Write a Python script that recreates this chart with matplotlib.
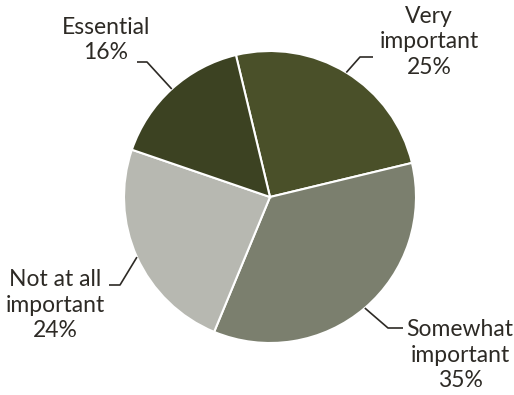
import matplotlib
matplotlib.use("Agg")
import matplotlib.pyplot as plt
import numpy as np

labels = ["Very\nimportant", "Somewhat\nimportant", "Not at all\nimportant", "Essential"]
values = [25, 35, 24, 16]
colors = ["#4a5029", "#7b7f6e", "#b7b8b1", "#3c4222"]

# label block centres and leader elbows / ends (pixel space, y downwards)
text_pos = [(429, 42), (460, 355), (55, 305), (106, 40)]
elbows = [((360, 57), (373, 57)), ((388, 328), (403, 328)),
          ((120, 285), (109, 285)), ((147, 62), (137, 62))]

W, H = 514, 395
plt.rcParams["font.family"] = ["Lato", "DejaVu Sans"]
fig = plt.figure(figsize=(W / 100, H / 100), dpi=100)
ax = fig.add_axes([0, 0, 1, 1])
ax.set_xlim(0, W)
ax.set_ylim(0, H)
ax.set_aspect("equal")
ax.axis("off")

cx, cy, r = 270, H - 197, 146
start = 103.5
wedges, _ = ax.pie(values, colors=colors, startangle=start, counterclock=False,
                   center=(cx, cy), radius=r, frame=True,
                   wedgeprops=dict(edgecolor="white", linewidth=1.5))
ax.set_xlim(0, W)
ax.set_ylim(0, H)
ax.axis("off")

ink = "#2d2a25"
for w, lab, v, (tx, ty), (el, end) in zip(wedges, labels, values, text_pos, elbows):
    mid = np.deg2rad((w.theta1 + w.theta2) / 2)
    px, py = cx + r * np.cos(mid), cy + r * np.sin(mid)
    ax.plot([px, el[0], end[0]], [py, H - el[1], H - end[1]],
            color=ink, lw=1.2, solid_capstyle="butt")
    ax.text(tx, H - ty, f"{lab}\n{v}%", ha="center", va="center",
            fontsize=16.5, color=ink, linespacing=1.25, multialignment="center")

fig.savefig("out.png", dpi=100)
